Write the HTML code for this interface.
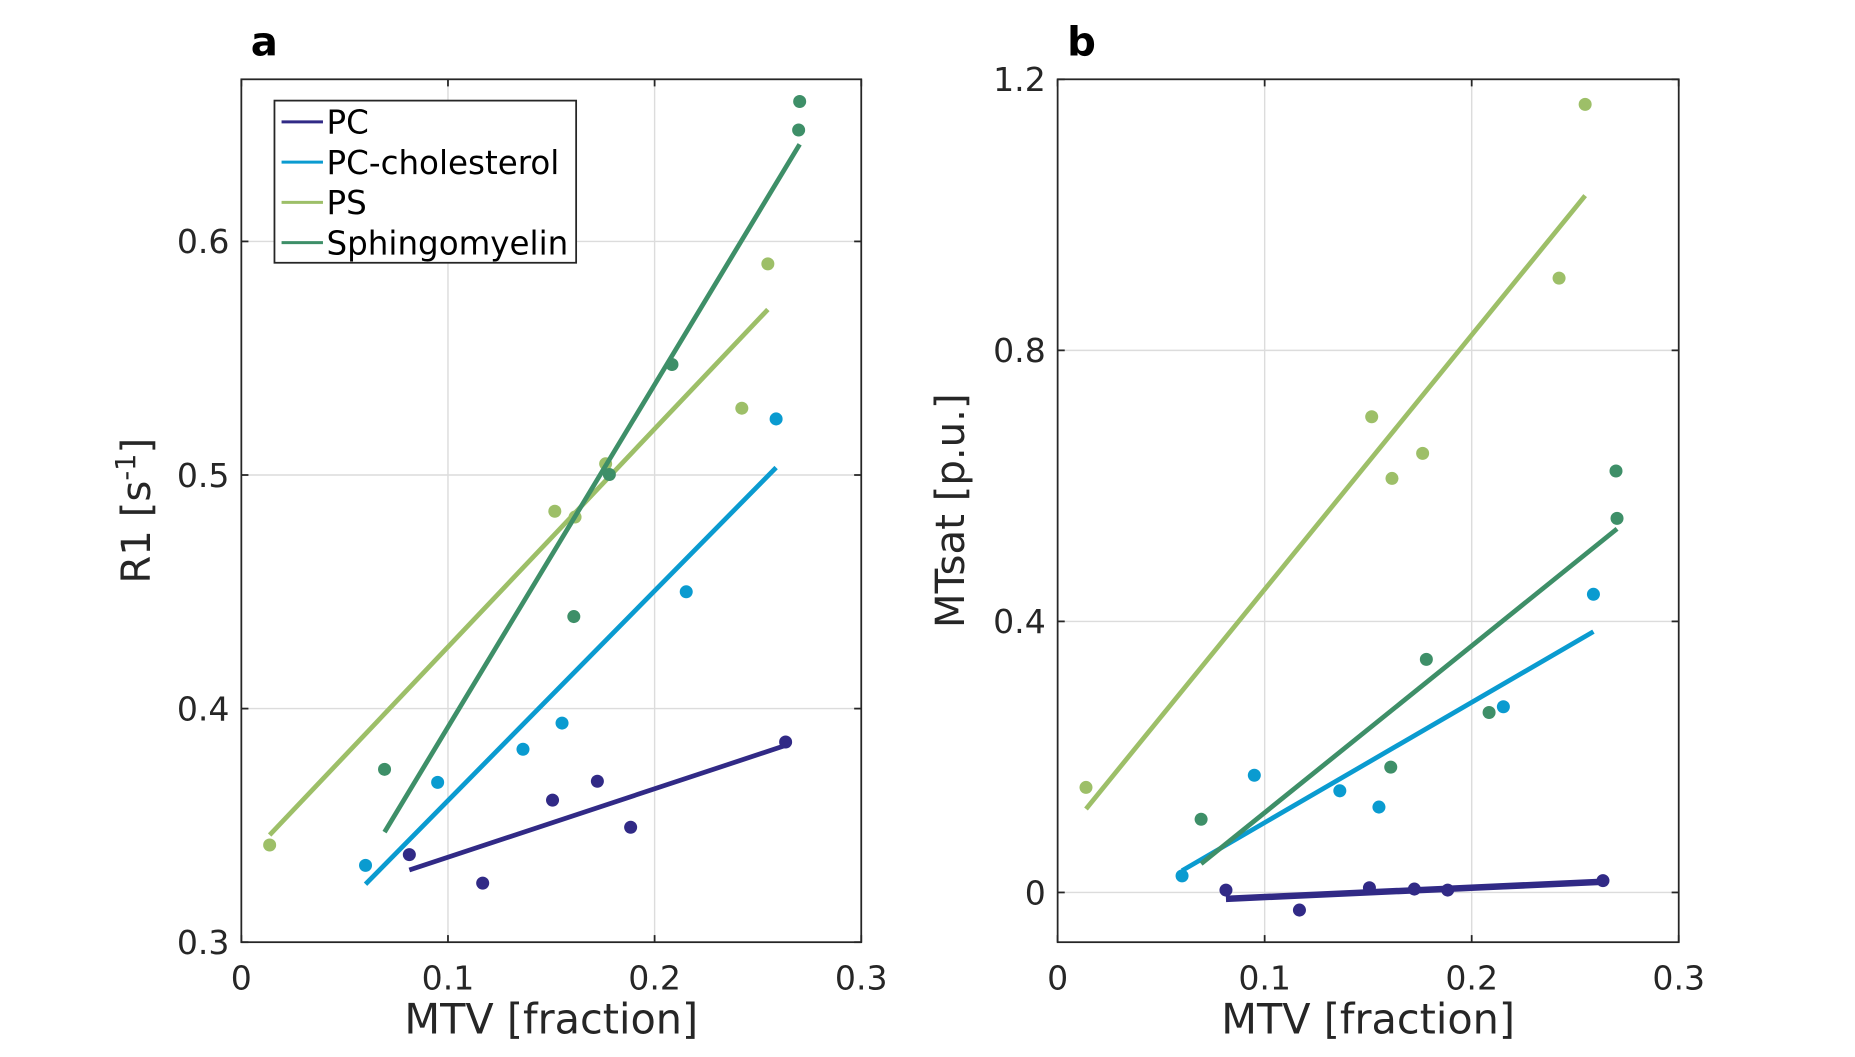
<!DOCTYPE html>
<html><head><meta charset="utf-8"><style>
html,body{margin:0;padding:0;background:#fff;width:1855px;height:1057px;overflow:hidden}
svg{display:block}
text{font-family:"DejaVu Sans","Liberation Sans",sans-serif;fill:#262626}
</style></head><body>
<svg id="chart" width="1855" height="1057" viewBox="0 0 1568 893" preserveAspectRatio="none" xmlns="http://www.w3.org/2000/svg"></svg>
<script>
const seriesNames = ["PC","PC-cholesterol","PS","Sphingomyelin"];
const seriesColors = ["#312a86","#0a9bd0","#9dbf68","#3e8f68"];
const xTicks = [0,0.1,0.2,0.3];
const xTickLabels = ["0","0.1","0.2","0.3"];
const aYTicks = [0.3,0.4,0.5,0.6];
const aYTickLabels = ["0.3","0.4","0.5","0.6"];
const bYTicks = [0,0.4,0.8,1.2];
const bYTickLabels = ["0","0.4","0.8","1.2"];
const mtvPC = [0.0813,0.1168,0.1506,0.1723,0.1884,0.2634];
const mtvChol = [0.0601,0.0950,0.1363,0.1552,0.2153,0.2588];
const mtvPS = [0.0137,0.1517,0.1615,0.1763,0.2422,0.2548];
const mtvSph = [0.0693,0.1609,0.1781,0.2084,0.2697,0.2702];
const r1PC = [0.3375,0.3253,0.3608,0.3689,0.3492,0.3857];
const r1Chol = [0.3329,0.3684,0.3826,0.3938,0.4500,0.5240];
const r1PS = [0.3416,0.4845,0.4820,0.5048,0.5286,0.5904];
const r1Sph = [0.3740,0.4394,0.5002,0.5473,0.6477,0.6599];
const mtPC = [0.0035,-0.026,0.007,0.005,0.0035,0.0175];
const mtChol = [0.0245,0.173,0.150,0.126,0.274,0.440];
const mtPS = [0.155,0.702,0.611,0.648,0.9066,1.163];
const mtSph = [0.108,0.185,0.344,0.2655,0.622,0.552];

const NS="http://www.w3.org/2000/svg";
const svg=document.getElementById('chart');
function mk(tag,attrs,parent){const e=document.createElementNS(NS,tag);for(const k in attrs)e.setAttribute(k,attrs[k]);(parent||svg).appendChild(e);return e;}
function fit(xs,ys){const n=xs.length;let mx=0,my=0;for(let i=0;i<n;i++){mx+=xs[i];my+=ys[i];}mx/=n;my/=n;let sxy=0,sxx=0;for(let i=0;i<n;i++){sxy+=(xs[i]-mx)*(ys[i]-my);sxx+=(xs[i]-mx)**2;}const b=sxy/sxx;return [my-b*mx,b];}

function panel(id,L,R,T,B,ymin,ymax,yTicks,yLabels,xsArr,ysArr,ylabelFn,ylabX,letter,lw){
  const g=mk('g',{});
  
  
  const sx=v=>L+(v-0)/0.3*(R-L);
  const sy=v=>B-(v-ymin)/(ymax-ymin)*(B-T);
  xTicks.forEach((t,i)=>{if(i>0&&i<xTicks.length-1){const l=mk('line',{x1:sx(t),x2:sx(t),y1:T,y2:B,stroke:'#dcdcdc','stroke-width':1.2},g);}});
  yTicks.forEach(t=>{const y=sy(t);if(y>T+1&&y<B-1){const l=mk('line',{x1:L,x2:R,y1:y,y2:y,stroke:'#dcdcdc','stroke-width':1.2},g);}});
  for(let s=0;s<4;s++){
    const xs=xsArr[s],ys=ysArr[s];
    const [a,b]=fit(xs,ys);
    const x0=Math.min(...xs),x1=Math.max(...xs);
    const ln=mk('line',{x1:sx(x0),y1:sy(a+b*x0),x2:sx(x1),y2:sy(a+b*x1),stroke:seriesColors[s],'stroke-width':(s===0?lw:4)},g);
    
    
    for(let i=0;i<xs.length;i++){
      const c=mk('circle',{cx:sx(xs[i]),cy:sy(ys[i]),r:5.5,fill:seriesColors[s]},g);
      
      
    }
  }
  const bx=mk('rect',{x:L,y:T,width:R-L,height:B-T,fill:'none',stroke:'#262626','stroke-width':1.5},g);
  
  
  xTicks.forEach((t,i)=>{
    const x=sx(t);
    mk('line',{x1:x,x2:x,y1:B,y2:B-6,stroke:'#262626','stroke-width':1.5},g);
    mk('line',{x1:x,x2:x,y1:T,y2:T+6,stroke:'#262626','stroke-width':1.5},g);
    const tx=mk('text',{x:x,y:B+40,'text-anchor':'middle','font-size':28},g);
    tx.textContent=xTickLabels[i];
    
    
  });
  yTicks.forEach((t,i)=>{
    const y=sy(t);
    mk('line',{x1:L,x2:L+6,y1:y,y2:y,stroke:'#262626','stroke-width':1.5},g);
    mk('line',{x1:R,x2:R-6,y1:y,y2:y,stroke:'#262626','stroke-width':1.5},g);
    const ty=mk('text',{x:L-10,y:y+10,'text-anchor':'end','font-size':28},g);
    ty.textContent=yLabels[i];
    
    
  });
  const xl=mk('text',{x:(L+R)/2,y:873,'text-anchor':'middle','font-size':35},g);
  xl.textContent='MTV [fraction]';
  
  
  ylabelFn(g,ylabX,(T+B)/2);
  const lt=mk('text',{x:L+8,y:47,'font-size':34,'font-weight':'bold'},g);
  lt.textContent=letter;
  lt.style.fill='#000';
  
  
}

panel('panel-a',204,728,67,796,0.3,0.6694,aYTicks,aYTickLabels,[mtvPC,mtvChol,mtvPS,mtvSph],[r1PC,r1Chol,r1PS,r1Sph],
 (g,x,y)=>{const t=mk('text',{x:0,y:0,'text-anchor':'middle','font-size':34,transform:`translate(${x},${y}) rotate(-90)`},g);
  t.innerHTML='R1 [s<tspan dy="-13" font-size="23">-1</tspan><tspan dy="13">]</tspan>';
  },127,'a',4);
panel('panel-b',894,1419,67,796,-0.0734,1.2,bYTicks,bYTickLabels,[mtvPC,mtvChol,mtvPS,mtvSph],[mtPC,mtChol,mtPS,mtSph],
 (g,x,y)=>{const t=mk('text',{x:0,y:0,'text-anchor':'middle','font-size':34,transform:`translate(${x},${y}) rotate(-90)`},g);
  t.textContent='MTsat [p.u.]';
  },815,'b',5.5);

const lg=mk('g',{});


mk('rect',{x:232,y:85,width:255,height:137,fill:'#fff',stroke:'#262626','stroke-width':1.5},lg);
seriesNames.forEach((n,i)=>{
  const y=103+i*34;
  const e=mk('g',{},lg);
  
  
  mk('line',{x1:238,x2:273,y1:y,y2:y,stroke:seriesColors[i],'stroke-width':2.5},e);
  const t=mk('text',{x:276,y:y+10,'font-size':27.5},e);
  t.textContent=n;
  t.style.fill='#000';
});
</script>
</body></html>
